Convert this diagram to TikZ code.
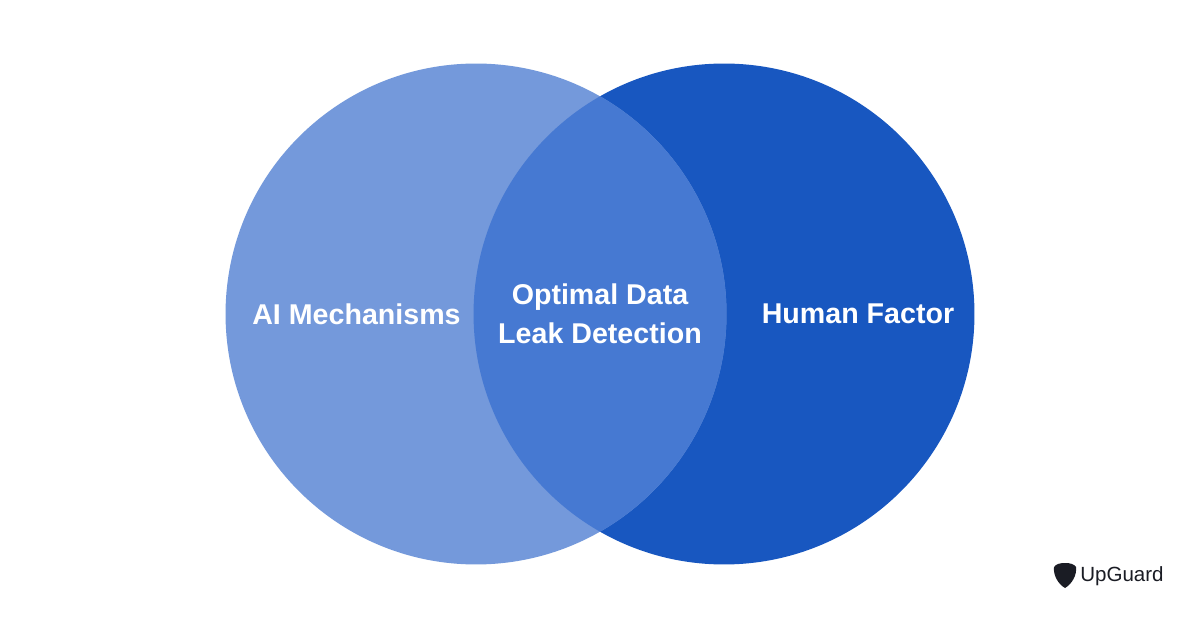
\documentclass[tikz,border=0pt]{standalone}
\usepackage{fontspec}
\setmainfont{Liberation Sans}
\definecolor{aiblue}{HTML}{7499DB}
\definecolor{humanblue}{HTML}{1857C0}
\definecolor{bothblue}{HTML}{4679D2}
\definecolor{logoink}{HTML}{1A1C24}
\tikzset{
	vennlabel/.style={text=white,font=\fontsize{20.35}{28}\selectfont\bfseries,align=center,inner sep=0pt},
	logolabel/.style={text=logoink,font=\fontsize{14.6}{16}\selectfont,anchor=west,inner sep=0pt},
}
\begin{document}
\begin{tikzpicture}[x=.025cm,y=-.025cm]
	\useasboundingbox[fill=white] (0,0) rectangle (1200,628);
	\coordinate (ai) at (476,314);
	\coordinate (human) at (724,314);
	\fill[humanblue] (human) circle (6.26cm);
	\fill[aiblue] (ai) circle (6.26cm);
	\begin{scope}
		\clip (ai) circle (6.26cm);
		\fill[bothblue] (human) circle (6.26cm);
	\end{scope}
	\node[vennlabel] (ailabel) at (356.5,314) {AI Mechanisms};
	\node[vennlabel] (bothlabel) at (600,313.5) {Optimal Data\\Leak Detection};
	\node[vennlabel] (humanlabel) at (858,314) {Human Factor};
	% logo
	\fill[logoink] (1065,563) .. controls (1060,563) and (1056,564) .. (1054,567)
		.. controls (1053,575) and (1058,584) .. (1065,588)
		.. controls (1072,584) and (1077,575) .. (1076,567)
		.. controls (1074,564) and (1070,563) .. (1065,563) -- cycle;
	\node[logolabel] (logotext) at (1080,576) {UpGuard};
\end{tikzpicture}
\end{document}
